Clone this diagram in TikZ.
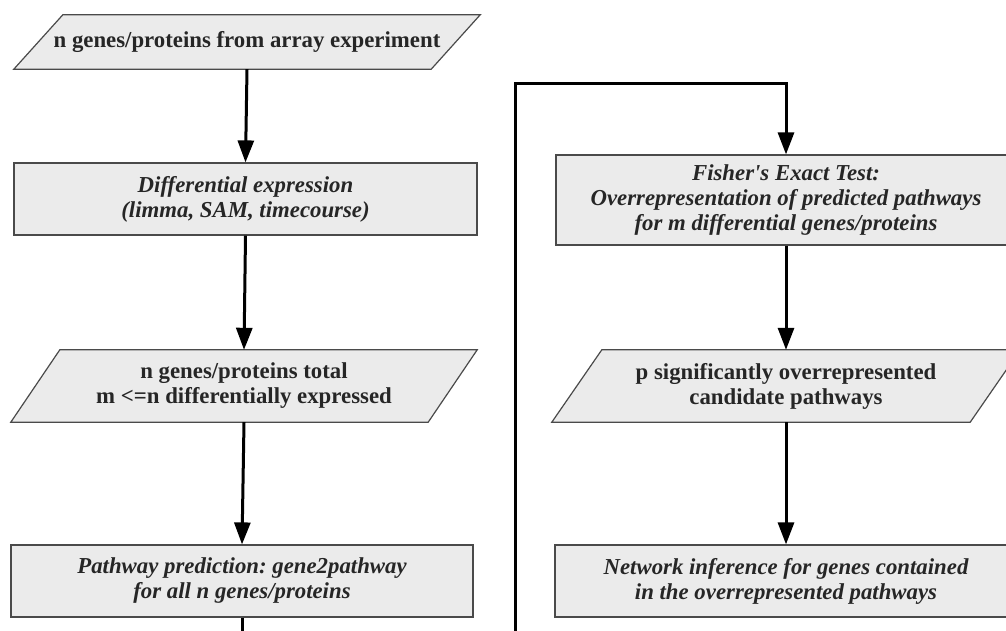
\documentclass[tikz,border=0pt]{standalone}
\usepackage{fontspec}
\setmainfont{Liberation Serif}[Ligatures=TeXOff]
\usetikzlibrary{arrows.meta,backgrounds}
\frenchspacing
\definecolor{boxfill}{HTML}{EBEBEB}
\definecolor{boxline}{HTML}{4A4A4A}
\definecolor{ink}{HTML}{262626}
\tikzset{
  x=1pt, y=-1pt,
  textbase/.style={text=ink, align=center, inner sep=0pt},
  procbox/.style={textbase, font=\fontsize{22.8}{25}\selectfont\bfseries\itshape,
    draw=boxline, fill=boxfill, line width=1.2pt, minimum height=72pt},
  iobody/.style={textbase, font=\fontsize{22.8}{25}\selectfont\bfseries,
    minimum height=72pt},
  ioshape/.style={draw=boxline, fill=boxfill, line width=1.2pt},
  flowline/.style={line width=3pt, draw=black},
  flow/.style={flowline, -{Triangle[length=22pt,width=16pt]}},
}
% parallelogram drawn around a text node: #1 node name, #2 half of the slant
\newcommand\ioshapeof[2]{%
  \path[ioshape] ([xshift=#2]#1.north west) -- ([xshift=#2]#1.north east)
    -- ([xshift=-#2]#1.south east) -- ([xshift=-#2]#1.south west) -- cycle;}
\begin{document}
\begin{tikzpicture}
\useasboundingbox (0,0) rectangle (1006,630);
\clip (0,0) rectangle (1006,630);

% left column
\node[iobody, minimum width=417pt, minimum height=54pt] (in1) at (247,42)
  {n genes/proteins from array experiment};
\node[procbox, minimum width=463pt] (de) at (245.5,199)
  {Differential expression\\(limma, SAM, timecourse)};
\node[iobody, minimum width=417pt] (tot) at (244,386)
  {n genes/proteins total\\m <=n differentially expressed};
\node[procbox, minimum width=462pt] (pp) at (242,581)
  {Pathway prediction: gene2pathway\\for all n genes/proteins};

% right column
\node[procbox, minimum width=460pt, minimum height=90pt] (fet) at (786,200)
  {Fisher's Exact Test:\\Overrepresentation of predicted pathways\\for m differential genes/proteins};
\node[iobody, minimum width=418pt] (sig) at (786,386)
  {p significantly overrepresented\\candidate pathways};
\node[procbox, minimum width=462pt] (ni) at (786,581)
  {Network inference for genes contained\\in the overrepresented pathways};

% parallelogram outlines behind the input/output texts
\begin{scope}[on background layer]
  \clip (0,0) rectangle (1006,630);
  \ioshapeof{in1}{24.5pt}
  \ioshapeof{tot}{24.5pt}
  \ioshapeof{sig}{25pt}
\end{scope}

% connectors
\draw[flow] (in1.south) -- (de.north);
\draw[flow] (de.south) -- (tot.north);
\draw[flow] (tot.south) -- (pp.north);
\coordinate (leftend) at (242,645);
\draw[flowline] (pp.south) -- (leftend);

\coordinate (loopstart) at (515,645);
\coordinate (loopcorner) at (515,83);
\draw[flow] (loopstart) -- (loopcorner) -| (fet.north);
\draw[flow] (fet.south) -- (sig.north);
\draw[flow] (sig.south) -- (ni.north);
\end{tikzpicture}
\end{document}
